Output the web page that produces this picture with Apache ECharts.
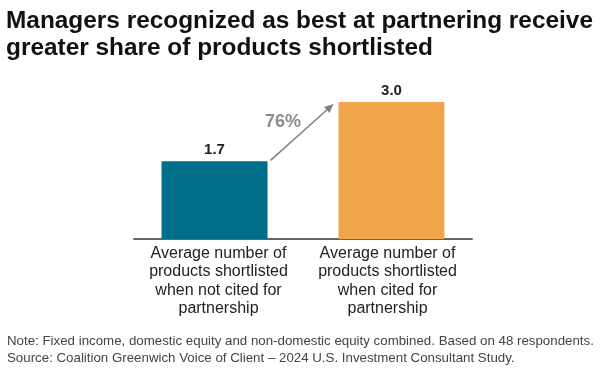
<!DOCTYPE html>
<html><head><meta charset="utf-8">
<script src="https://cdn.jsdelivr.net/npm/echarts@6/dist/echarts.min.js"></script>
<style>html,body{margin:0;padding:0;background:#fff}#c{width:602px;height:373px}</style>
</head><body><div id="c"></div>
<script>
const categories = ['Average number of\nproducts shortlisted\nwhen not cited for\npartnership', 'Average number of\nproducts shortlisted\nwhen cited for\npartnership'];
const notCited = [1.7, null];
const cited = [null, 3.0];
const changeLabel = '76%';
const titleLines = 'Managers recognized as best at partnering receive\ngreater share of products shortlisted';
const noteLines = 'Note: Fixed income, domestic equity and non-domestic equity combined. Based on 48 respondents.\nSource: Coalition Greenwich Voice of Client \u2013 2024 U.S. Investment Consultant Study.';

const FONT = 'Liberation Sans, Arial, sans-serif';
const chart = echarts.init(document.getElementById('c'), null, {renderer: 'canvas'});
const labelCfg = {show: true, position: 'top', distance: 4, color: '#222', fontSize: 15, fontWeight: 'bold', fontFamily: FONT, formatter: p => p.value.toFixed(1)};
chart.setOption({
  animation: false,
  title: [
    {text: titleLines, left: 1, top: 3, textStyle: {fontFamily: FONT, fontSize: 24.4, fontWeight: 'bold', color: '#111', lineHeight: 27}},
    {text: noteLines, left: 2, top: 328, textStyle: {fontFamily: FONT, fontSize: 13.3, fontWeight: 'normal', color: '#444', lineHeight: 17}}
  ],
  grid: {left: 134, right: 130, top: 102, bottom: 134, containLabel: false},
  xAxis: {type: 'category', data: categories, boundaryGap: true,
    axisLine: {lineStyle: {color: '#666', width: 2}}, axisTick: {show: false},
    axisLabel: {interval: 0, color: '#222', fontSize: 16, fontFamily: FONT, lineHeight: 18.5, margin: 5}},
  yAxis: {type: 'value', min: 0, max: 3.0, show: false, splitLine: {show: false}},
  series: [
    {type: 'bar', data: notCited, barWidth: 106, barGap: '-92.5%', itemStyle: {color: '#00708A'}, label: labelCfg},
    {type: 'bar', data: cited, barWidth: 106, itemStyle: {color: '#F0A54A'}, label: labelCfg}
  ]
});
// annotation arrow computed from the bars' scale positions
const p0 = chart.convertToPixel({seriesIndex: 0}, [0, notCited[0]]);
const p1 = chart.convertToPixel({seriesIndex: 1}, [1, cited[1]]);
const x0 = p0[0] + 52, y0 = p0[1] - 1;
const x1 = p1[0] - 54, y1 = p1[1] + 2;
const ang = Math.atan2(y1 - y0, x1 - x0);
const hl = 9, hw = 4;
const bx = x1 - hl * Math.cos(ang), by = y1 - hl * Math.sin(ang);
chart.setOption({graphic: [
  {type: 'line', shape: {x1: x0, y1: y0, x2: bx, y2: by}, style: {stroke: '#808080', lineWidth: 1.5}},
  {type: 'polygon', shape: {points: [[x1, y1], [bx + hw * Math.sin(ang), by - hw * Math.cos(ang)], [bx - hw * Math.sin(ang), by + hw * Math.cos(ang)]]}, style: {fill: '#808080'}},
  {type: 'text', x: (x0 + x1) / 2 - 19, y: (y0 + y1) / 2 - 10, style: {text: changeLabel, fill: '#8c8c8c', font: 'bold 18px ' + FONT, textAlign: 'center', textVerticalAlign: 'middle'}}
]});
</script></body></html>
